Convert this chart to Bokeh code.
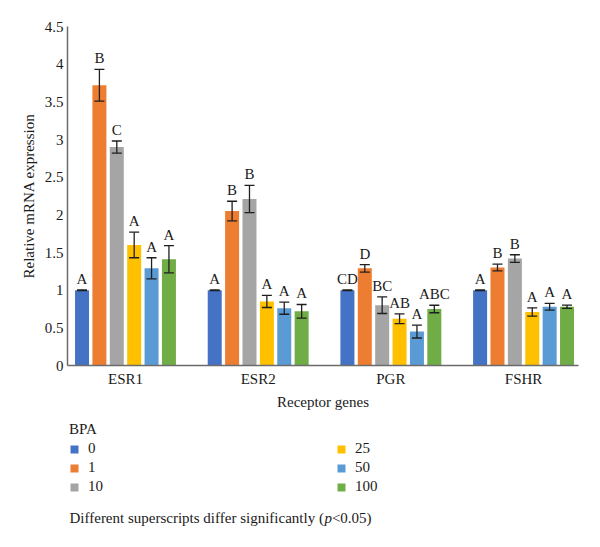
from bokeh.plotting import figure
from bokeh.layouts import column
from bokeh.models import (ColumnDataSource, Range1d, FixedTicker, Whisker, TeeHead,
                          Legend, LegendItem, NumeralTickFormatter, Label)
from bokeh.core.properties import value
from bokeh.embed import file_html
from bokeh.resources import INLINE

# ---------------- data ----------------
genes = ["ESR1", "ESR2", "PGR", "FSHR"]
doses = ["0", "1", "10", "25", "50", "100"]
colors = ["#4472C4", "#ED7D31", "#A5A5A5", "#FFC000", "#5B9BD5", "#70AD47"]

mean_0 = [1.00, 1.00, 1.00, 1.00]
mean_1 = [3.72, 2.05, 1.29, 1.30]
mean_10 = [2.90, 2.21, 0.80, 1.42]
mean_25 = [1.60, 0.85, 0.62, 0.71]
mean_50 = [1.29, 0.76, 0.45, 0.78]
mean_100 = [1.41, 0.72, 0.75, 0.78]

err_0 = [0.005, 0.005, 0.005, 0.005]
err_1 = [0.21, 0.13, 0.05, 0.045]
err_10 = [0.08, 0.18, 0.11, 0.05]
err_25 = [0.17, 0.08, 0.065, 0.055]
err_50 = [0.14, 0.08, 0.085, 0.045]
err_100 = [0.18, 0.09, 0.05, 0.022]

sig_0 = ["A", "A", "CD", "A"]
sig_1 = ["B", "B", "D", "B"]
sig_10 = ["C", "B", "BC", "B"]
sig_25 = ["A", "A", "AB", "A"]
sig_50 = ["A", "A", "A", "A"]
sig_100 = ["A", "A", "ABC", "A"]

means = [mean_0, mean_1, mean_10, mean_25, mean_50, mean_100]
errs = [err_0, err_1, err_10, err_25, err_50, err_100]
sigs = [sig_0, sig_1, sig_10, sig_25, sig_50, sig_100]

y_ticks = [0, 0.5, 1, 1.5, 2, 2.5, 3, 3.5, 4, 4.5]

FONT = "Liberation Serif"
TXT = "#1a1a1a"
FS = "15px"
ERR = "#1f1f1f"

# ---------------- layout constants ----------------
step = 0.131
bar_w = 0.1055
x_lo, x_hi = 0.063, 3.914
H1 = 412
H2 = 547 - H1
LEFT, RIGHT = 67, 22

p = figure(width=600, height=H1, x_range=Range1d(x_lo, x_hi), y_range=Range1d(0, 4.5),
           output_backend="svg", toolbar_location=None,
           min_border_left=LEFT, min_border_right=RIGHT, min_border_top=26, min_border_bottom=44)
p.outline_line_color = None
p.grid.grid_line_color = None

# lower strip (legend + footnote), frame aligned with the chart frame
p2 = figure(width=600, height=H2, x_range=Range1d(LEFT, 600 - RIGHT), y_range=Range1d(H2, 0),
            output_backend="svg", toolbar_location=None,
            x_axis_location=None, y_axis_location=None,
            min_border_left=LEFT, min_border_right=RIGHT,
            min_border_top=0, min_border_bottom=0)
p2.grid.grid_line_color = None
p2.outline_line_color = None

swatches = []
for k, d in enumerate(doses):
    xs = [i + 0.5 + (k - 2.5) * step for i in range(len(genes))]
    up = [m + e for m, e in zip(means[k], errs[k])]
    lo = [m - e for m, e in zip(means[k], errs[k])]
    src = ColumnDataSource(dict(x=xs, top=means[k], upper=up, lower=lo, sig=sigs[k]))
    p.vbar(x="x", top="top", width=bar_w, source=src, fill_color=colors[k], line_color=None)
    w = Whisker(source=src, base="x", upper="upper", lower="lower", level="overlay",
                line_color=ERR, line_width=1.3,
                upper_head=TeeHead(size=10, line_color=ERR, line_width=1.3),
                lower_head=TeeHead(size=10, line_color=ERR, line_width=1.3))
    p.add_layout(w)
    p.text(x="x", y="upper", text="sig", source=src, text_align="center",
           text_baseline="bottom", y_offset=-3, text_font=value(FONT),
           text_font_size=FS, text_color=TXT)
    # same series, hidden, only to feed the legend swatch in the lower strip
    sw = p2.vbar(x="x", top="top", width=bar_w, source=src, fill_color=colors[k],
                 line_color=None, visible=False)
    swatches.append(sw)

# axes
p.yaxis.ticker = FixedTicker(ticks=y_ticks)
p.yaxis.formatter = NumeralTickFormatter(format="0.[0]")
p.xaxis.ticker = FixedTicker(ticks=[i + 0.5 for i in range(len(genes))])
p.xaxis.major_label_overrides = {i + 0.5: g for i, g in enumerate(genes)}
for ax in (p.xaxis, p.yaxis):
    ax.major_tick_line_color = None
    ax.minor_tick_line_color = None
    ax.major_tick_out = 0
    ax.major_tick_in = 0
    ax.minor_tick_out = 0
    ax.axis_line_color = "#6b6b6b"
    ax.axis_line_width = 1.5
    ax.major_label_text_font = FONT
    ax.major_label_text_font_size = FS
    ax.major_label_text_color = TXT
    ax.axis_label_text_font = FONT
    ax.axis_label_text_font_size = FS
    ax.axis_label_text_font_style = "normal"
    ax.axis_label_text_color = TXT
p.yaxis.major_label_standoff = 4
p.xaxis.major_label_standoff = 5
p.yaxis.axis_label = "Relative mRNA expression"
p.yaxis.axis_label_standoff = 5
p.xaxis.axis_label = "Receptor genes"
p.xaxis.axis_label_standoff = 4

# legend
items = [LegendItem(label=d, renderers=[swatches[k]]) for k, d in enumerate(doses)]
legend = Legend(items=items, location=(2, H2 - 83), orientation="vertical", nrows=3,
                title="BPA", title_text_font=FONT, title_text_font_size=FS,
                title_text_font_style="normal", title_text_color=TXT, title_standoff=2,
                label_text_font=FONT, label_text_font_size=FS, label_text_color=TXT,
                glyph_width=10, glyph_height=10, label_standoff=9, label_width=246,
                label_height=17, spacing=2, padding=0, margin=0, click_policy="none",
                border_line_color=None, background_fill_alpha=0)
p2.add_layout(legend)

# footnote
w1 = 254.9
for txt, off, style in [("Different superscripts differ significantly (", 0, "normal"),
                        ("p", w1, "italic"),
                        ("<0.05)", w1 + 7.5, "normal")]:
    p2.add_layout(Label(x=69, y=517 - H1, x_offset=off, text=txt, text_font=FONT,
                        text_font_size=FS, text_font_style=style, text_color=TXT,
                        text_baseline="middle", text_align="left"))

layout = column(p, p2, spacing=0)
open("out.html", "w").write(file_html(layout, INLINE))
